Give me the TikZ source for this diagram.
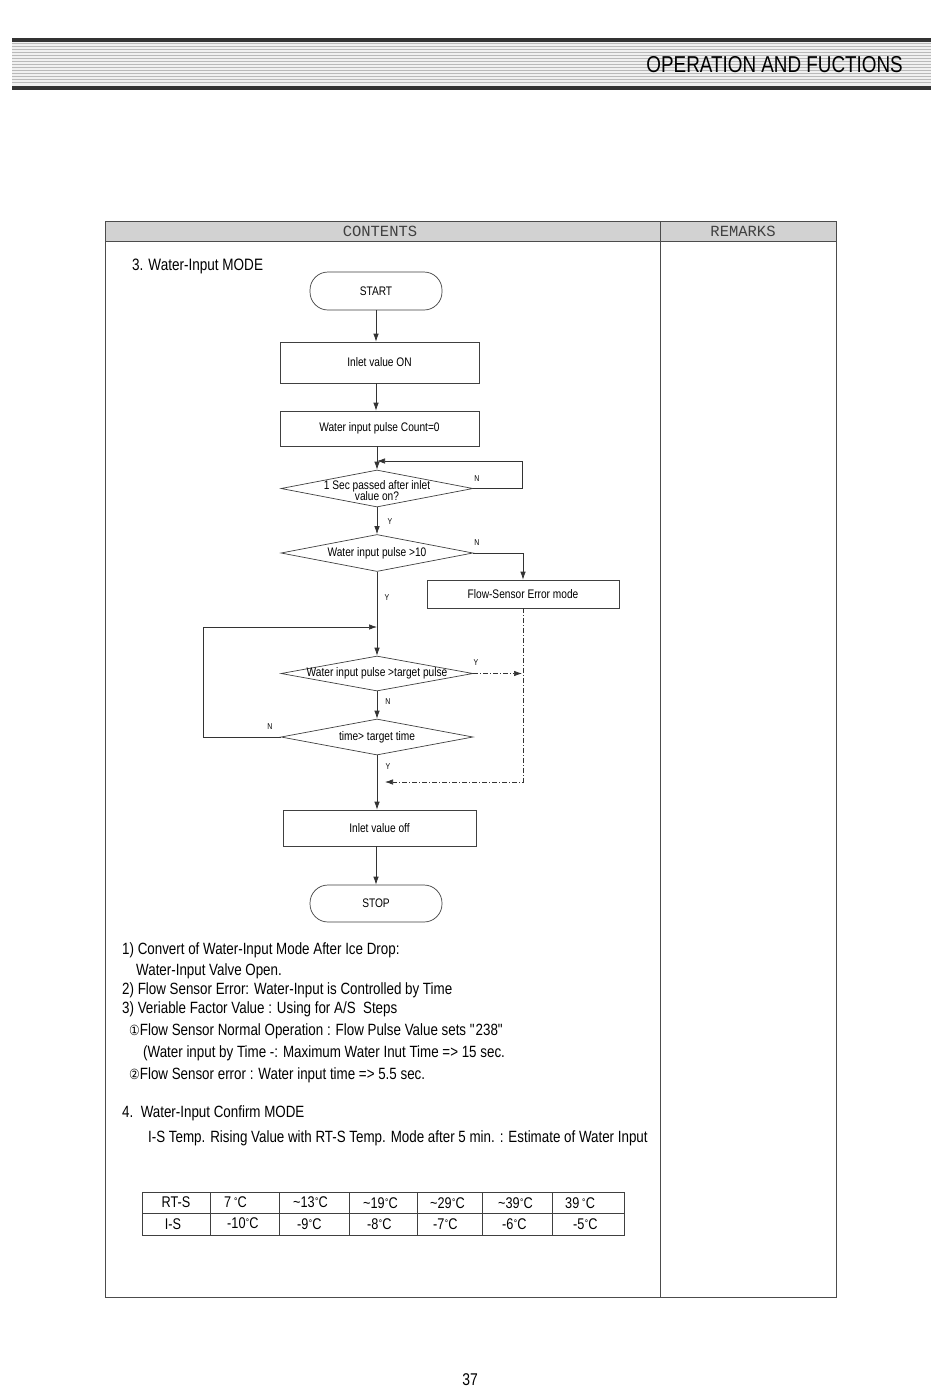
\documentclass[tikz,border=0pt]{standalone}
\usepackage{fontspec}
\setmainfont{Liberation Sans}[FakeStretch=0.82]
\newfontfamily\monof{Liberation Mono}
\newfontfamily\symf{DejaVu Sans}[FakeStretch=0.85]
\usetikzlibrary{shapes.geometric,arrows.meta}
\newcommand{\dg}{\raisebox{0.45ex}{\fontsize{9}{9}\selectfont\symf °}}
\begin{document}
\begin{tikzpicture}[x=1pt,y=-1pt,
  line/.style={draw=black!80, line width=0.7pt},
  arr/.style={line, -{Latex[length=8pt,width=5.5pt]}},
  dd/.style={arr, dash pattern=on 5pt off 2pt on 1pt off 2pt},
  box/.style={draw=black!75, line width=0.7pt, rectangle, inner sep=0pt, font=\fontsize{12.4}{13}\selectfont},
  term/.style={box, rounded corners=18pt, minimum width=132pt, minimum height=38pt},
  dia/.style={draw=black!75, line width=0.7pt, diamond, aspect=5.2, inner sep=0pt, minimum width=192pt, minimum height=37pt, font=\fontsize{12.4}{12}\selectfont},
  lab/.style={font=\fontsize{8.5}{9}\selectfont, inner sep=0pt},
  body/.style={anchor=west, inner sep=0pt, font=\fontsize{16.3}{18}\selectfont},
  cell/.style={anchor=west, inner sep=0pt, font=\fontsize{15.5}{16}\selectfont}
]
\useasboundingbox (0,0) rectangle (950,1398);
\fill[white] (0,0) rectangle (950,1398);
% header
\fill[gray!12] (12,42) rectangle (931,86);
\foreach \y in {43.5,46.5,...,85} \draw[gray!55, line width=1.4pt] (12,\y) -- (931,\y);
\fill[black!80] (12,37.5) rectangle (931,42);
\fill[black!80] (12,85.5) rectangle (931,89.5);
\node[anchor=base east, inner sep=0pt, font=\fontsize{23}{24}\selectfont] (title) at (903,72) {OPERATION AND FUCTIONS};
% frame
\fill[gray!35] (105,221) rectangle (836,241);
\draw[black!70, line width=0.8pt] (105,221) rectangle (836,1297);
\draw[black!70, line width=0.8pt] (105,241) -- (836,241);
\draw[black!70, line width=0.8pt] (660,221) -- (660,1297);
\node[inner sep=0pt, font=\monof\fontsize{15.5}{16}\selectfont, text=black!75] (contents) at (380,231.5) {CONTENTS};
\node[inner sep=0pt, font=\monof\fontsize{15.5}{16}\selectfont, text=black!75] (remarks) at (743,231.5) {REMARKS};
\node[body, font=\fontsize{16.5}{18}\selectfont] (sec3) at (132,266) {3. Water-Input MODE};
% flowchart
\node[term] (start) at (376,291) {START};
\node[box, minimum width=199pt, minimum height=41pt] (inlet) at (379.5,362.5) {Inlet value ON};
\node[box, minimum width=199pt, minimum height=35pt] (count) at (379.5,428.5) {Water input pulse Count=0};
\node[dia] (d1) at (377,488.5) {\makebox[0pt]{\smash{\raisebox{-7pt}{\begin{tabular}{@{}c@{}}1 Sec passed after inlet\\[-1.5pt]value on?\end{tabular}}}}};
\node[dia] (d2) at (377,553) {\makebox[0pt]{Water input pulse >10}};
\node[box, minimum width=192pt, minimum height=28pt] (err) at (523,594) {Flow-Sensor Error mode};
\node[dia, minimum height=35pt] (d3) at (377,673.5) {\makebox[0pt]{Water input pulse >target pulse}};
\node[dia, minimum height=36pt] (d4) at (377,737) {\makebox[0pt]{time> target time}};
\node[box, minimum width=193pt, minimum height=36pt] (off) at (379.5,828) {Inlet value off};
\node[term, minimum height=37pt] (stop) at (376,903.5) {STOP};
\coordinate (j1) at (377,461);
\coordinate (j2) at (377,627);
\coordinate (j3) at (522,673.5);
\coordinate (j4) at (385,782);
\draw[arr] (start.south) -- (start.south |- inlet.north);
\draw[arr] (inlet.south -| start.south) -- (start.south |- count.north);
\draw[arr] (count.south -| d1.north) -- (d1.north);
\draw[line] (d1.east) -- ++(49,0) -- ++(0,-27.5);
\draw[arr] (d1.east) ++(49,-27.5) -- (j1);
\draw[arr] (d1.south) -- (d2.north);
\draw[arr] (d2.east) -| (err.north);
\draw[arr] (d2.south) -- (d3.north);
\draw[arr] (d4.west) -- ++(-77,0) |- (j2);
\draw[dd] (d3.east) -- (j3);
\draw[dd] (err.south) |- (j4);
\draw[arr] (d3.south) -- (d4.north);
\draw[arr] (d4.south) -- (d4.south |- off.north);
\draw[arr] (off.south -| stop.north) -- (stop.north);
\node[lab] (n1) at (477,479) {N};
\node[lab] (y1) at (390,522) {Y};
\node[lab] (n2) at (477,543) {N};
\node[lab] (y2) at (387,598) {Y};
\node[lab] (y3) at (476,663) {Y};
\node[lab] (n3) at (388,702) {N};
\node[lab] (n4) at (270,727) {N};
\node[lab] (y4) at (388,767) {Y};
% notes
\node[body] (t1) at (122,950) {1) Convert of Water-Input Mode After Ice Drop:};
\node[body] (t2) at (136,971) {Water-Input Valve Open.};
\node[body] (t3) at (122,990) {2) Flow Sensor Error: Water-Input is Controlled by Time};
\node[body] (t4) at (122,1009) {3) Veriable Factor Value : Using for A/S\ \ Steps};
\node[body] (t5) at (129,1031) {{\symf\fontsize{14}{15}\selectfont ①}Flow Sensor Normal Operation : Flow Pulse Value sets \textquotedbl 238\textquotedbl};
\node[body] (t6) at (143,1053) {(Water input by Time -: Maximum Water Inut Time => 15 sec.};
\node[body] (t7) at (129,1075) {{\symf\fontsize{14}{15}\selectfont ②}Flow Sensor error : Water input time => 5.5 sec.};
\node[body] (t8) at (122,1113) {4.\ \ Water-Input Confirm MODE};
\node[body] (t9) at (148,1138) {I-S Temp. Rising Value with RT-S Temp. Mode after 5 min. : Estimate of Water Input};
% table
\draw[black!75, line width=0.8pt] (142,1192) rectangle (624,1235);
\draw[black!75, line width=0.8pt] (142,1213) -- (624,1213);
\foreach \x in {210,279,349,417,482,552} \draw[black!75, line width=0.8pt] (\x,1192) -- (\x,1235);
\node[inner sep=0pt, font=\fontsize{15.5}{16}\selectfont] (rts) at (176,1202.5) {RT-S};
\node[inner sep=0pt, font=\fontsize{15.5}{16}\selectfont] (is) at (173,1224) {I-S};
\node[cell] (a1) at (224,1202.5) {7\,\dg C};
\node[cell] (a2) at (293,1202.5) {\textasciitilde13\dg C};
\node[cell] (a3) at (363,1203.5) {\textasciitilde19\dg C};
\node[cell] (a4) at (430,1203.5) {\textasciitilde29\dg C};
\node[cell] (a5) at (498,1203.5) {\textasciitilde39\dg C};
\node[cell] (a6) at (565,1203.5) {39\,\dg C};
\node[cell] (b1) at (227,1223.5) {-10\dg C};
\node[cell] (b2) at (297,1224.5) {-9\dg C};
\node[cell] (b3) at (367,1224.5) {-8\dg C};
\node[cell] (b4) at (433,1224.5) {-7\dg C};
\node[cell] (b5) at (502,1224.5) {-6\dg C};
\node[cell] (b6) at (573,1224.5) {-5\dg C};
\node[inner sep=0pt, font=\fontsize{17}{18}\selectfont] (page) at (470,1380) {37};
\end{tikzpicture}
\end{document}
